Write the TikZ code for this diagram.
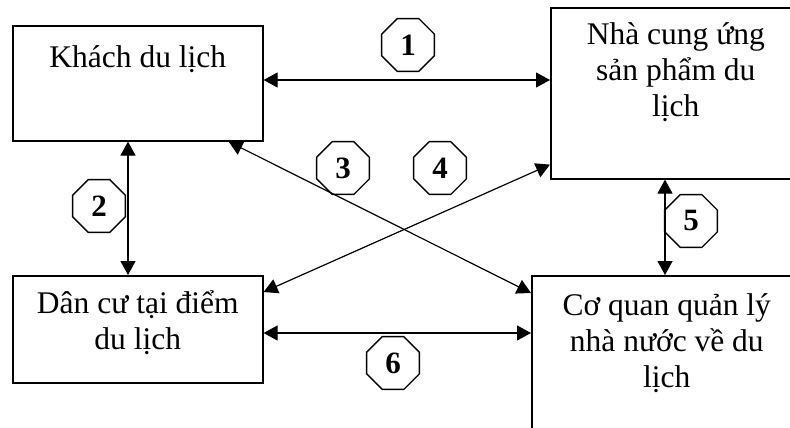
\documentclass[tikz,border=0pt]{standalone}
\usepackage{fontspec}
\setmainfont{Liberation Serif}
\usetikzlibrary{arrows.meta,shapes.geometric}
\lineskiplimit=-100pt
\begin{document}
\begin{tikzpicture}[x=1pt,y=-1pt,
 box/.style={draw, line width=1.6pt, rectangle, inner sep=0pt, anchor=north west},
 txt/.style={font=\fontsize{31.5}{36}\selectfont, align=center, anchor=north, inner sep=0pt},
 oct/.style={draw, line width=1.4pt, regular polygon, regular polygon sides=8, minimum size=57pt, inner sep=0pt, font=\fontsize{31}{31}\selectfont\bfseries},
 link/.style={line width=1.2pt, {Triangle[length=14pt,width=15pt]}-{Triangle[length=14pt,width=15pt]}}
]
\clip (0,0) rectangle (790,428);
\node[box, minimum width=250pt, minimum height=115pt] (kdl) at (12,25) {};
\node[box, minimum width=250pt, minimum height=171pt] (ncu) at (550,7) {};
\node[box, minimum width=250pt, minimum height=107pt] (dc) at (12,275) {};
\node[box, minimum width=270pt, minimum height=180pt] (cq) at (531,275) {};

\node[txt] (tkdl) at ([yshift=-14pt]kdl.north) {\rule{0pt}{28pt}Khách du lịch};
\node[txt] (tncu) at ([yshift=-9pt]ncu.north) {\rule{0pt}{28pt}Nhà cung ứng\\sản phẩm du\\lịch};
\node[txt] (tdc) at ([yshift=-10pt]dc.north) {\rule{0pt}{28pt}Dân cư tại điểm\\du lịch};
\node[txt] (tcq) at ([yshift=-12pt]cq.north) {\rule{0pt}{28pt}Cơ quan quản lý\\nhà nước về du\\lịch};

\node[oct] (n1) at (408,45) {1};
\node[oct] (n2) at (99,206) {2};
\node[oct] (n3) at (343,168) {3};
\node[oct] (n4) at (440,168) {4};
\node[oct] (n5) at (691,221) {5};
\node[oct] (n6) at (393,363) {6};

\draw[link] ([yshift=-55pt]kdl.north east) -- ([yshift=-73pt]ncu.north west);
\draw[link] ([xshift=116pt]kdl.south west) -- ([xshift=116pt]dc.north west);
\draw[link] ([xshift=-35pt]kdl.south east) -- ([yshift=-18pt]cq.north west);
\draw[link] ([yshift=15pt]ncu.south west) -- ([yshift=-17pt]dc.north east);
\draw[link] ([xshift=115pt]ncu.south west) -- ([xshift=134pt]cq.north west);
\draw[link] ([yshift=-58pt]dc.north east) -- ([yshift=-58pt]cq.north west);
\end{tikzpicture}
\end{document}
